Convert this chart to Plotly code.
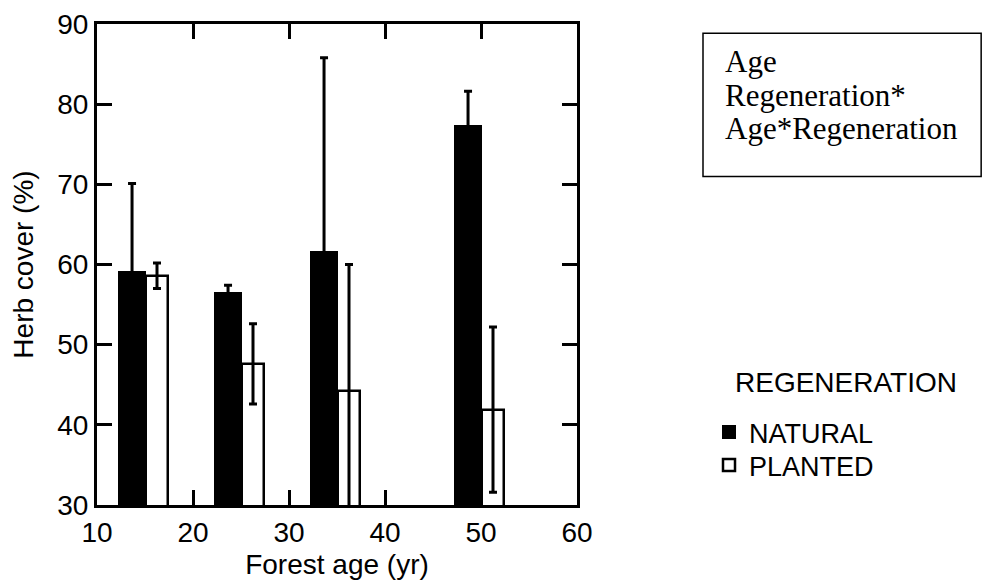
import plotly.graph_objects as go

# Forest age classes (yr)
ages = [15, 25, 35, 50]

# Herb cover (%) by regeneration type: mean and error-bar half-length
natural_mean = [59.1, 56.5, 61.5, 77.3]
natural_err = [11.0, 0.9, 24.3, 4.3]
planted_mean = [58.6, 47.6, 44.2, 41.9]
planted_err = [1.6, 5.0, 15.8, 10.3]

series_names = ["NATURAL", "PLANTED"]
legend_title = "REGENERATION"
model_terms = ["Age", "Regeneration*", "Age*Regeneration"]

x_ticks = [10, 20, 30, 40, 50, 60]
y_ticks = [30, 40, 50, 60, 70, 80, 90]

SANS = "Liberation Sans, Arial, sans-serif"
SERIF = "Liberation Serif, Times New Roman, serif"

# Paired bars: natural on the left of each age, planted on the right
nat_x = [a - 1.35 for a in ages]
pla_x = [a + 1.25 for a in ages]

fig = go.Figure()
fig.add_trace(go.Bar(
    x=nat_x, y=natural_mean, width=2.75, name=series_names[0],
    marker=dict(color="black", line=dict(color="black", width=2)),
    error_y=dict(type="data", array=natural_err, visible=True,
                 color="black", thickness=3, width=4),
    legend="legend",
))
fig.add_trace(go.Bar(
    x=pla_x, y=planted_mean, width=2.2, name=series_names[1],
    marker=dict(color="white", line=dict(color="black", width=2.5)),
    error_y=dict(type="data", array=planted_err, visible=True,
                 color="black", thickness=3, width=4),
    legend="legend2",
))

axis_common = dict(
    showline=True, linewidth=3, linecolor="black", mirror="ticks",
    ticks="inside", ticklen=15, tickwidth=3, tickcolor="black",
    showgrid=False, zeroline=False,
    tickfont=dict(family=SANS, size=28, color="black"),
)

legend_common = dict(xanchor="left", yanchor="top",
                     bgcolor="rgba(0,0,0,0)", borderwidth=0,
                     font=dict(family=SANS, size=27, color="black"))

fig.update_layout(
    width=982, height=584,
    margin=dict(l=97, r=405, t=24, b=79, autoexpand=False),
    paper_bgcolor="white", plot_bgcolor="white",
    font=dict(family=SANS, size=28, color="black"),
    barmode="overlay",
    bargap=0,
    xaxis=dict(range=[10, 60], tickvals=x_ticks, automargin=True,
               title=dict(text="Forest age (yr)", font=dict(size=28), standoff=8),
               **axis_common),
    yaxis=dict(range=[30, 90], tickvals=y_ticks, automargin=True,
               title=dict(text="Herb cover (%)", font=dict(size=28), standoff=16),
               **axis_common),
    showlegend=True,
    legend=dict(x=1.275, y=0.2017, **legend_common),
    legend2=dict(x=1.275, y=0.1331, **legend_common),
)

# Box listing the model terms
fig.add_shape(type="rect", xref="paper", yref="paper",
              x0=1.2625, x1=1.842, y0=0.683, y1=0.981,
              line=dict(color="black", width=1.5), fillcolor="rgba(0,0,0,0)")
term_y = [0.921, 0.852, 0.782]
for txt, yy in zip(model_terms, term_y):
    fig.add_annotation(text=txt, xref="paper", yref="paper", x=1.304, y=yy,
                       xanchor="left", yanchor="middle", showarrow=False,
                       font=dict(family=SERIF, size=31, color="black"))

# Legend heading
fig.add_annotation(text=legend_title, xref="paper", yref="paper", x=1.325, y=0.2557,
                   xanchor="left", yanchor="middle", showarrow=False,
                   font=dict(family=SANS, size=28, color="black"))

fig.write_html("out.html")
